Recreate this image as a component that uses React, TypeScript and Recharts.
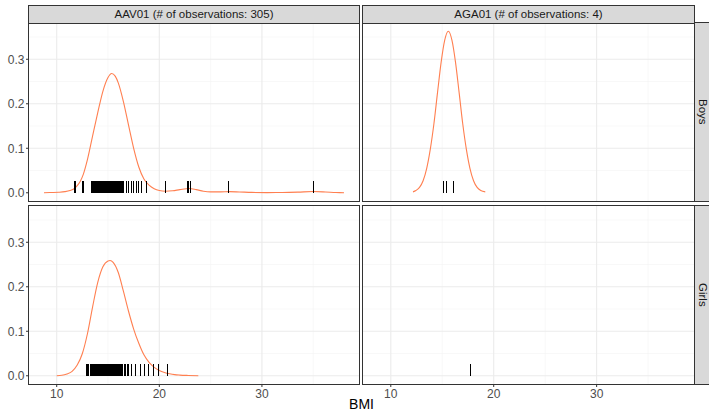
import React from 'react'
import { ComposedChart, Line, Scatter, XAxis, YAxis, CartesianGrid } from 'recharts'

// facet labels
const facilities = ['AAV01', 'AGA01']
const observations = [305, 4]
const sexes = ['Boys', 'Girls']

// shared scales (facet_grid, fixed scales)
const X_DOMAIN = [7.3, 39.46]
const Y_DOMAIN = [-0.0185, 0.3815]
const X_TICKS = [10, 20, 30]
const X_MINOR = [15, 25, 35]
const Y_TICKS = [0, 0.1, 0.2, 0.3]
const Y_MINOR = [0.05, 0.15, 0.25, 0.35]

// density curves [BMI, density]
const aav01BoysCurve = [
  [8.76, 0.0002], [9.5, 0.0006], [10.2, 0.0012], [10.8, 0.0025], [11.3, 0.005],
  [11.7, 0.009], [12.0, 0.016], [12.3, 0.026], [12.6, 0.042], [13.0, 0.075],
  [13.5, 0.128], [14.0, 0.18], [14.5, 0.228], [15.0, 0.259], [15.35, 0.268],
  [15.7, 0.262], [16.0, 0.247], [16.5, 0.205], [17.0, 0.152], [17.5, 0.1],
  [18.0, 0.058], [18.5, 0.031], [19.0, 0.017], [19.5, 0.009], [20.0, 0.005],
  [20.6, 0.0035], [21.3, 0.0045], [22.0, 0.007], [22.9, 0.0095], [23.6, 0.007],
  [24.3, 0.0035], [25.0, 0.002], [26.0, 0.002], [26.8, 0.0025], [27.8, 0.0018],
  [29.0, 0.0008], [30.5, 0.0004], [32.0, 0.0006], [33.5, 0.0014], [35.0, 0.0027],
  [36.2, 0.0018], [37.2, 0.0007], [38.0, 0.0002],
]
const aga01BoysCurve = [
  [12.16, 0.002], [12.44, 0.005], [12.79, 0.012], [13.14, 0.027], [13.49, 0.055],
  [13.84, 0.098], [14.19, 0.155], [14.54, 0.225], [14.89, 0.293], [15.24, 0.343],
  [15.59, 0.363], [15.94, 0.343], [16.29, 0.293], [16.64, 0.225], [16.99, 0.155],
  [17.34, 0.098], [17.69, 0.055], [18.04, 0.027], [18.39, 0.012], [18.74, 0.005],
  [19.18, 0.002],
]
const aav01GirlsCurve = [
  [10.0, 0.0002], [10.5, 0.001], [11.0, 0.004], [11.5, 0.01], [12.0, 0.024],
  [12.5, 0.05], [13.0, 0.095], [13.5, 0.155], [14.0, 0.21], [14.5, 0.245],
  [15.0, 0.258], [15.2, 0.259], [15.5, 0.255], [16.0, 0.232], [16.5, 0.19],
  [17.0, 0.145], [17.5, 0.105], [18.0, 0.073], [18.5, 0.047], [19.0, 0.03],
  [19.5, 0.019], [20.0, 0.012], [20.5, 0.0075], [21.0, 0.0045], [21.5, 0.0025],
  [22.0, 0.0015], [22.8, 0.0007], [23.8, 0.0002],
]
const aga01GirlsCurve: number[][] = []

// individual observations (rug)
const aav01BoysRug = [
  11.78, 12.56, 13.42, 13.5, 13.58, 13.66, 13.75, 13.83, 13.9, 13.98, 14.07, 14.15,
  14.23, 14.3, 14.38, 14.46, 14.55, 14.62, 14.7, 14.78, 14.86, 14.95, 15.03, 15.1,
  15.18, 15.26, 15.35, 15.42, 15.5, 15.58, 15.66, 15.75, 15.83, 15.9, 15.98, 16.07,
  16.15, 16.22, 16.3, 16.38, 16.55, 16.81, 17.04, 17.3, 17.52, 17.78, 18.0, 18.24,
  18.72, 20.6, 22.72, 22.87, 23.03, 26.77, 35.03,
]
const aga01BoysRug = [15.14, 15.4, 15.4, 16.13]
const aav01GirlsRug = [
  12.92, 13.0, 13.08, 13.3, 13.38, 13.46, 13.54, 13.62, 13.7, 13.78, 13.86, 13.94,
  14.02, 14.1, 14.18, 14.26, 14.34, 14.42, 14.5, 14.58, 14.66, 14.74, 14.82, 14.9,
  14.98, 15.06, 15.14, 15.22, 15.3, 15.38, 15.46, 15.54, 15.62, 15.7, 15.78, 15.86,
  15.94, 16.02, 16.1, 16.2, 16.3, 16.39, 16.66, 16.95, 17.25, 17.7, 18.15, 18.55,
  18.98, 19.4, 19.95, 20.83,
]
const aga01GirlsRug = [17.72]

const FONT = '"Liberation Sans", Arial, Helvetica, sans-serif'
const COLS = [{ x: 29, w: 330 }, { x: 363, w: 331 }]
const ROWS = [{ y: 23, h: 178 }, { y: 206, h: 178 }]
const X_AXIS_H = 22
const Y_AXIS_W = 29

const RugTick = (props: any) => {
  const { cx, cy } = props
  if (cx == null || cy == null) return <g />
  return (
    <line
      x1={cx} x2={cx} y1={cy} y2={cy - 11.5}
      stroke="#000" strokeWidth={1.1} shapeRendering="crispEdges"
    />
  )
}

type PanelProps = {
  curve: number[][]
  rug: number[]
  col: number
  row: number
}

function Panel({ curve, rug, col, row }: PanelProps) {
  const showY = col === 0
  const showX = row === 1
  const c = COLS[col]
  const r = ROWS[row]
  const left = showY ? c.x - Y_AXIS_W : c.x
  const width = showY ? c.w + Y_AXIS_W : c.w
  const height = showX ? r.h + X_AXIS_H : r.h
  const curveData = curve.map(([x, y]) => ({ x, y }))
  const rugData = rug.map((x) => ({ x, y: 0 }))

  return (
    <div style={{ position: 'absolute', left, top: r.y }}>
      <ComposedChart width={width} height={height} margin={{ top: 0, right: 0, bottom: 0, left: 0 }}>
        <CartesianGrid
          stroke="#f3f3f3"
          strokeWidth={0.6}
          horizontalValues={Y_MINOR}
          verticalValues={X_MINOR}
        />
        <CartesianGrid
          stroke="#ebebeb"
          strokeWidth={1.1}
          horizontalValues={Y_TICKS}
          verticalValues={X_TICKS}
        />
        <XAxis
          type="number"
          dataKey="x"
          domain={X_DOMAIN}
          ticks={X_TICKS}
          allowDataOverflow
          hide={!showX}
          height={X_AXIS_H}
          axisLine={false}
          tickSize={3}
          tickMargin={2}
          tickLine={{ stroke: '#333333' }}
          tick={{ fontSize: 12, fill: '#4d4d4d', fontFamily: FONT }}
        />
        <YAxis
          type="number"
          dataKey="y"
          domain={Y_DOMAIN}
          ticks={Y_TICKS}
          allowDataOverflow
          hide={!showY}
          width={Y_AXIS_W}
          axisLine={false}
          tickSize={3}
          tickMargin={1.5}
          tickLine={{ stroke: '#333333' }}
          tickFormatter={(v: number) => v.toFixed(1)}
          tick={{ fontSize: 12, fill: '#4d4d4d', fontFamily: FONT }}
        />
        {curveData.length > 0 && (
          <Line
            data={curveData}
            dataKey="y"
            type="monotone"
            stroke="#FF7F50"
            strokeWidth={1.1}
            dot={false}
            activeDot={false}
            isAnimationActive={false}
          />
        )}
        <Scatter data={rugData} dataKey="y" shape={RugTick} isAnimationActive={false} />
      </ComposedChart>
    </div>
  )
}

const panels = [
  { curve: aav01BoysCurve, rug: aav01BoysRug, col: 0, row: 0 },
  { curve: aga01BoysCurve, rug: aga01BoysRug, col: 1, row: 0 },
  { curve: aav01GirlsCurve, rug: aav01GirlsRug, col: 0, row: 1 },
  { curve: aga01GirlsCurve, rug: aga01GirlsRug, col: 1, row: 1 },
]

export default function App() {
  return (
    <div
      style={{
        position: 'absolute', left: 0, top: 0, width: 709, height: 413,
        background: '#fff', overflow: 'hidden', fontFamily: FONT,
      }}
    >
      {panels.map((p) => (
        <Panel key={`${p.col}-${p.row}`} {...p} />
      ))}

      {/* panel borders */}
      {ROWS.map((r, ri) =>
        COLS.map((c, ci) => (
          <div
            key={`b-${ri}-${ci}`}
            style={{
              position: 'absolute', left: c.x - 1, top: r.y - 1, width: c.w + 2, height: r.h + 2,
              border: '1px solid #333', boxSizing: 'border-box', pointerEvents: 'none',
            }}
          />
        ))
      )}

      {/* column strips */}
      {COLS.map((c, ci) => (
        <div
          key={`s-${ci}`}
          style={{
            position: 'absolute', left: c.x - 1, top: 5, width: c.w + 2, height: 19,
            border: '1px solid #333', boxSizing: 'border-box', background: '#d9d9d9',
            color: '#1a1a1a', fontSize: 11.5, lineHeight: '17px', textAlign: 'center',
            whiteSpace: 'nowrap',
          }}
        >
          {`${facilities[ci]} (# of observations: ${observations[ci]})`}
        </div>
      ))}

      {/* row strips */}
      {ROWS.map((r, ri) => (
        <div
          key={`r-${ri}`}
          style={{
            position: 'absolute', left: COLS[1].x + COLS[1].w, top: r.y - 1, width: 17, height: r.h + 2,
            border: '1px solid #333', boxSizing: 'border-box', background: '#d9d9d9',
            color: '#1a1a1a', fontSize: 11.5, display: 'flex', alignItems: 'center',
            justifyContent: 'center',
          }}
        >
          <span style={{ writingMode: 'vertical-rl' }}>{sexes[ri]}</span>
        </div>
      ))}

      <div
        style={{
          position: 'absolute', left: COLS[0].x, width: COLS[1].x + COLS[1].w - COLS[0].x,
          top: 397, fontSize: 14, lineHeight: '15px', textAlign: 'center', color: '#000',
        }}
      >
        BMI
      </div>
    </div>
  )
}
